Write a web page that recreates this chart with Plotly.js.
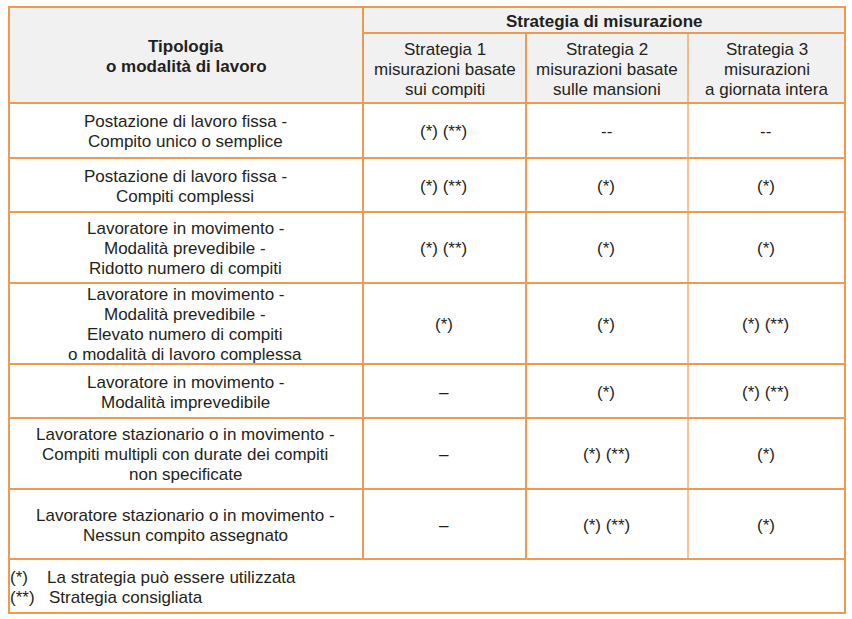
<!DOCTYPE html>
<html>
<head>
<meta charset="utf-8">
<script src="https://cdn.plot.ly/plotly-3.0.1.min.js"></script>
<style>html,body{margin:0;padding:0;background:#fff;}#chart{width:852px;height:619px;}</style>
</head>
<body>
<div id="chart"></div>
<script>
// ---- data ----
const groupHeader = "Strategia di misurazione";
const rowHeader = ["Tipologia", "o modalità di lavoro"];
const colHeaders = [
  ["Strategia 1", "misurazioni basate", "sui compiti"],
  ["Strategia 2", "misurazioni basate", "sulle mansioni"],
  ["Strategia 3", "misurazioni", "a giornata intera"]
];
const rowLabels = [
  ["Postazione di lavoro fissa -", "Compito unico o semplice"],
  ["Postazione di lavoro fissa -", "Compiti complessi"],
  ["Lavoratore in movimento -", "Modalità prevedibile -", "Ridotto numero di compiti"],
  ["Lavoratore in movimento -", "Modalità prevedibile -", "Elevato numero di compiti", "o modalità di lavoro complessa"],
  ["Lavoratore in movimento -", "Modalità imprevedibile"],
  ["Lavoratore stazionario o in movimento -", "Compiti multipli con durate dei compiti", "non specificate"],
  ["Lavoratore stazionario o in movimento -", "Nessun compito assegnato"]
];
const strategia1 = ["(*) (**)", "(*) (**)", "(*) (**)", "(*)", "–", "–", "–"];
const strategia2 = ["--", "(*)", "(*)", "(*)", "(*)", "(*) (**)", "(*) (**)"];
const strategia3 = ["--", "(*)", "(*)", "(*) (**)", "(*) (**)", "(*)", "(*)"];
const footSymbols = ["(*)", "(**)"];
const footTexts = ["La strategia può essere utilizzata", "Strategia consigliata"];

// ---- layout geometry (pixels) ----
const W = 852, H = 619;
const colX = [9, 363, 526, 688, 845];
const topY = 7, groupY = 33, headY = 103;
const rowY = [103, 158, 212, 283, 364, 418, 489, 559];
const bottomY = 613;
const orange = "#F09A50";
const txt = "#231F20";
const FS = 17, LH = 20;
const font = {family: "Liberation Sans, Arial, sans-serif", size: FS, color: txt};

const shapes = [];
const annotations = [];

// header background
shapes.push({type: "rect", xref: "x", yref: "y", x0: colX[0], x1: colX[4], y0: topY, y1: headY,
  fillcolor: "#F1F1F1", line: {width: 0}, layer: "below"});

function hline(y, x0, x1, w) {
  shapes.push({type: "line", xref: "x", yref: "y", x0: x0, x1: x1, y0: y, y1: y, line: {color: orange, width: w}});
}
function vline(x, y0, y1, w) {
  shapes.push({type: "line", xref: "x", yref: "y", x0: x, x1: x, y0: y0, y1: y1, line: {color: orange, width: w}});
}
hline(groupY, colX[1], colX[4], 2);
rowY.forEach(y => hline(y, colX[0], colX[4], 2));
vline(colX[1], topY, rowY[rowY.length - 1], 2);
vline(colX[2], groupY, rowY[rowY.length - 1], 2);
vline(colX[3], groupY, rowY[rowY.length - 1], 1.2);
// outer border
shapes.push({type: "rect", xref: "x", yref: "y", x0: colX[0], x1: colX[4], y0: topY, y1: bottomY,
  line: {color: orange, width: 2}, fillcolor: "rgba(0,0,0,0)"});

function block(lines, cx, cy, bold) {
  const n = lines.length;
  lines.forEach((s, i) => {
    annotations.push({xref: "x", yref: "y", x: cx, y: cy + (i - (n - 1) / 2) * LH,
      text: bold ? "<b>" + s + "</b>" : s, showarrow: false, xanchor: "center", yanchor: "middle",
      font: font});
  });
}
const mid = (a, b) => (a + b) / 2;

block([groupHeader], mid(colX[1], colX[4]), mid(topY, groupY) + 1, true);
block(rowHeader, mid(colX[0], colX[1]), mid(topY, headY) + 1, true);
colHeaders.forEach((c, j) => block(c, mid(colX[j + 1], colX[j + 2]), mid(groupY, headY) + 1, false));

const cols = [strategia1, strategia2, strategia3];
rowLabels.forEach((lab, i) => {
  const cy = mid(rowY[i], rowY[i + 1]) + 1;
  block(lab, mid(colX[0], colX[1]) - 1, cy, false);
  cols.forEach((col, j) => block([col[i]], mid(colX[j + 1], colX[j + 2]) - 1, cy, false));
});

// footnotes
const footX = [[8, 45], [8, 47]];
footSymbols.forEach((s, i) => {
  const y = 577 + i * LH;
  annotations.push({xref: "x", yref: "y", x: footX[i][0], y: y, text: s, showarrow: false,
    xanchor: "left", yanchor: "middle", font: font});
  annotations.push({xref: "x", yref: "y", x: footX[i][1], y: y, text: footTexts[i], showarrow: false,
    xanchor: "left", yanchor: "middle", font: font});
});

const layout = {
  width: W, height: H,
  margin: {l: 0, r: 0, t: 0, b: 0, pad: 0},
  paper_bgcolor: "#ffffff", plot_bgcolor: "#ffffff",
  xaxis: {range: [0, W], visible: false, fixedrange: true},
  yaxis: {range: [H, 0], visible: false, fixedrange: true},
  shapes: shapes, annotations: annotations, showlegend: false
};
Plotly.newPlot("chart", [{x: [], y: [], type: "scatter"}], layout, {staticPlot: true, displayModeBar: false});
</script>
</body>
</html>
